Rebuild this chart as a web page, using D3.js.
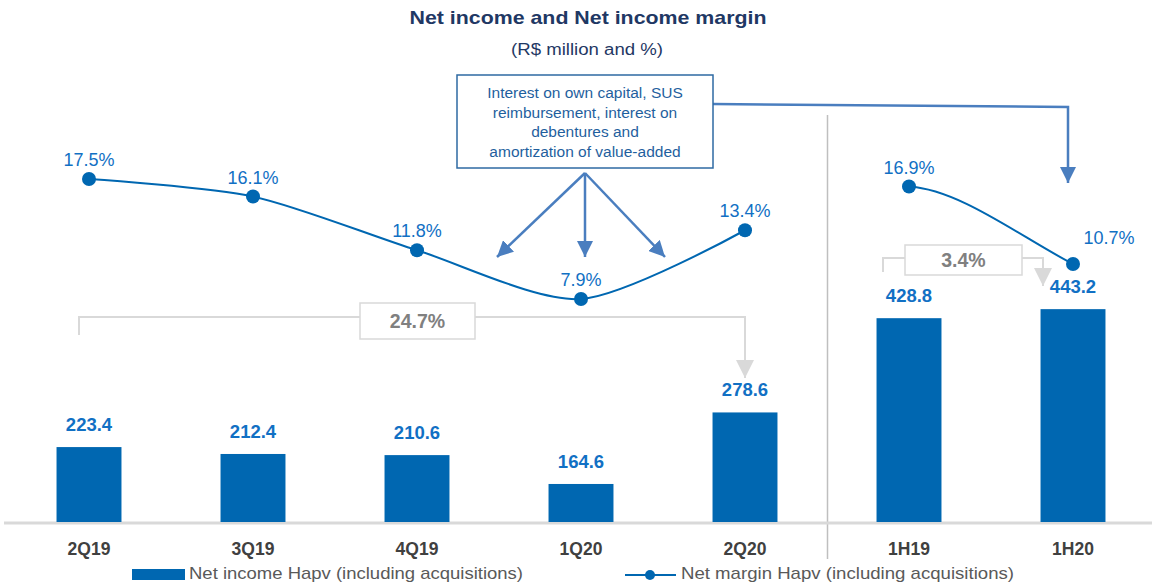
<!DOCTYPE html>
<html>
<head>
<meta charset="utf-8">
<script src="https://cdn.jsdelivr.net/npm/d3@7/dist/d3.min.js"></script>
<style>
  html, body { margin: 0; padding: 0; background: #fff; }
  svg { display: block; font-family: "Liberation Sans", Arial, sans-serif; }
</style>
</head>
<body>
<svg id="chart" width="1152" height="584"></svg>
<script>
// Periods, net income (R$ million) and net margin (%)
const categories = ["2Q19", "3Q19", "4Q19", "1Q20", "2Q20", "1H19", "1H20"];
const netIncome = [223.4, 212.4, 210.6, 164.6, 278.6, 428.8, 443.2];
const netMargin = [17.5, 16.1, 11.8, 7.9, 13.4, 16.9, 10.7];
const quarterGroup = ["2Q19", "3Q19", "4Q19", "1Q20", "2Q20"];
const halfGroup = ["1H19", "1H20"];
const growthLabels = ["24.7%", "3.4%"];
const noteLines = ["Interest on own capital, SUS", "reimbursement, interest on", "debentures and", "amortization of value-added"];
const legendLabels = ["Net income Hapv (including acquisitions)", "Net margin Hapv (including acquisitions)"];

const BLUE = "#0067b1";
const LABEL_BLUE = "#1170c4";
const ARROW = "#4a7ebf";
const GREY = "#d9d9d9";

const svg = d3.select("#chart");

const x = d3.scaleBand().domain(categories).range([7, 1155])
  .paddingInner(0.604).paddingOuter(0.302);
const cx = c => x(c) + x.bandwidth() / 2;
const yBar = d3.scaleLinear().domain([104, 700]).range([522, 148]);
const yLine = d3.scaleLinear().domain([0, 20]).range([397.75, 147.75]);

const rows = categories.map((c, i) => ({ c, v: netIncome[i], m: netMargin[i] }));

// Two-point smoothed segment: leaves flat, arrives steeply
function easeCurve(context) {
  let pts = [];
  return {
    lineStart() { pts = []; },
    lineEnd() {
      if (!pts.length) return;
      context.moveTo(pts[0][0], pts[0][1]);
      for (let i = 1; i < pts.length; i++) {
        const [x0, y0] = pts[i - 1], [x1, y1] = pts[i];
        const dx = x1 - x0, dy = y1 - y0;
        context.bezierCurveTo(x0 + dx * 0.31, y0 + dy * 0.04, x1 - dx * 0.32, y1 - dy * 0.35, x1, y1);
      }
    },
    areaStart() {}, areaEnd() {},
    point(px, py) { pts.push([px, py]); }
  };
}

// Arrow heads
const defs = svg.append("defs");
function marker(id, color, w, h) {
  defs.append("marker").attr("id", id)
    .attr("viewBox", "0 0 10 10").attr("refX", 10).attr("refY", 5)
    .attr("markerUnits", "userSpaceOnUse")
    .attr("markerWidth", w).attr("markerHeight", h)
    .attr("orient", "auto")
    .append("path").attr("d", "M0,0L10,5L0,10Z").attr("fill", color);
}
marker("headBlue", ARROW, 16, 16);
marker("headGrey", GREY, 18, 18);

// Title
svg.append("text").attr("x", 588).attr("y", 24).attr("text-anchor", "middle")
  .attr("font-size", 19).attr("font-weight", "bold").attr("fill", "#1f3864")
  .attr("textLength", 357).attr("lengthAdjust", "spacingAndGlyphs")
  .text("Net income and Net income margin");
svg.append("text").attr("x", 587).attr("y", 55).attr("text-anchor", "middle")
  .attr("font-size", 16).attr("fill", "#1f3864")
  .attr("textLength", 152).attr("lengthAdjust", "spacingAndGlyphs")
  .text("(R$ million and %)");

// Divider between quarters and halves
const divX = (cx("2Q20") + cx("1H19")) / 2 + 0.5;
svg.append("line").attr("x1", divX).attr("x2", divX).attr("y1", 115).attr("y2", 559)
  .attr("stroke", "#bfbfbf").attr("stroke-width", 1.5);

// Baseline
svg.append("line").attr("x1", 4).attr("x2", 1152).attr("y1", yBar(104) + 1).attr("y2", yBar(104) + 1)
  .attr("stroke", GREY).attr("stroke-width", 3);

// Bars
svg.append("g").selectAll("rect").data(rows).join("rect")
  .attr("x", d => x(d.c)).attr("width", x.bandwidth())
  .attr("y", d => yBar(d.v)).attr("height", d => yBar(104) - yBar(d.v))
  .attr("fill", BLUE);

svg.append("g").selectAll("text").data(rows).join("text")
  .attr("x", d => cx(d.c)).attr("y", d => yBar(d.v) - 16)
  .attr("text-anchor", "middle").attr("font-size", 18.5).attr("font-weight", "bold")
  .attr("fill", LABEL_BLUE).text(d => d.v.toFixed(1));

// Category labels
svg.append("g").selectAll("text").data(categories).join("text")
  .attr("x", d => cx(d)).attr("y", 555).attr("text-anchor", "middle")
  .attr("font-size", 17.5).attr("font-weight", "bold").attr("fill", "#404040")
  .text(d => d);

// Growth brackets
function bracket(x1, x2, yTop, yLeft, yTip, bx1, bx2, by1, by2, label, fs) {
  const g = svg.append("g");
  g.append("path")
    .attr("d", `M${x1},${yLeft}V${yTop}H${bx1}M${bx2},${yTop}H${x2}V${yTip}`)
    .attr("fill", "none").attr("stroke", GREY).attr("stroke-width", 2)
    .attr("marker-end", "url(#headGrey)");
  g.append("rect").attr("x", bx1).attr("y", by1).attr("width", bx2 - bx1).attr("height", by2 - by1)
    .attr("fill", "#fff").attr("stroke", GREY).attr("stroke-width", 1.5);
  g.append("text").attr("x", (bx1 + bx2) / 2).attr("y", (by1 + by2) / 2 + fs * 0.36)
    .attr("text-anchor", "middle").attr("font-size", fs).attr("font-weight", "bold")
    .attr("fill", "#808080").text(label);
}
bracket(cx("2Q19") - 10, cx("2Q20"), 317, 335, 378, 360, 475, 303, 339, growthLabels[0], 19.5);
bracket(cx("1H19") - 26, cx("1H20") - 30, 258, 272, 286, 905, 1022, 245, 275, growthLabels[1], 19.5);

// Margin lines
const lineGen = d3.line().x(d => cx(d.c)).y(d => yLine(d.m));
const qRows = rows.filter(d => quarterGroup.includes(d.c));
const hRows = rows.filter(d => halfGroup.includes(d.c));
svg.append("path").datum(qRows).attr("d", lineGen.curve(d3.curveCardinal.tension(0.2)))
  .attr("fill", "none").attr("stroke", BLUE).attr("stroke-width", 2);
svg.append("path").datum(hRows).attr("d", lineGen.curve(easeCurve))
  .attr("fill", "none").attr("stroke", BLUE).attr("stroke-width", 2);

svg.append("g").selectAll("circle").data(rows).join("circle")
  .attr("cx", d => cx(d.c)).attr("cy", d => yLine(d.m)).attr("r", 7)
  .attr("fill", BLUE);

svg.append("g").selectAll("text").data(rows).join("text")
  .attr("x", d => d.c === "1H20" ? cx(d.c) + 36 : cx(d.c))
  .attr("y", d => d.c === "1H20" ? yLine(d.m) - 20 : yLine(d.m) - 13)
  .attr("text-anchor", "middle").attr("font-size", 18).attr("fill", LABEL_BLUE)
  .text(d => d.m.toFixed(1) + "%");

// Note box with arrows
const note = svg.append("g");
const boxX1 = 457, boxX2 = 713, boxY1 = 75, boxY2 = 168;
const oX = cx("1Q20") + 4, oY = boxY2 + 5;
[[cx("1Q20") - 84, 257], [cx("1Q20") + 4, 257], [cx("1Q20") + 84, 257]].forEach(([tx, ty]) => {
  note.append("line").attr("x1", oX).attr("y1", oY).attr("x2", tx).attr("y2", ty)
    .attr("stroke", ARROW).attr("stroke-width", 2.5).attr("marker-end", "url(#headBlue)");
});
note.append("path")
  .attr("d", `M${boxX2},104L${cx("1H20") - 5},107V183`)
  .attr("fill", "none").attr("stroke", ARROW).attr("stroke-width", 2.5)
  .attr("marker-end", "url(#headBlue)");
note.append("rect").attr("x", boxX1).attr("y", boxY1).attr("width", boxX2 - boxX1).attr("height", boxY2 - boxY1)
  .attr("fill", "#fff").attr("stroke", "#2e6aa3").attr("stroke-width", 1.5);
note.append("g").selectAll("text").data(noteLines).join("text")
  .attr("x", (boxX1 + boxX2) / 2).attr("y", (d, i) => 98 + i * 19.5)
  .attr("text-anchor", "middle").attr("font-size", 15.5).attr("fill", "#1f5f9e")
  .text(d => d);

// Legend
const lg = svg.append("g");
lg.append("rect").attr("x", 132).attr("y", 569).attr("width", 53).attr("height", 11).attr("fill", BLUE);
lg.append("text").attr("x", 189).attr("y", 579).attr("font-size", 17)
  .attr("textLength", 334).attr("lengthAdjust", "spacingAndGlyphs")
  .attr("fill", "#595959").text(legendLabels[0]);
lg.append("line").attr("x1", 625).attr("x2", 676).attr("y1", 575).attr("y2", 575)
  .attr("stroke", BLUE).attr("stroke-width", 2);
lg.append("circle").attr("cx", 650).attr("cy", 575).attr("r", 5).attr("fill", BLUE);
lg.append("text").attr("x", 681).attr("y", 579).attr("font-size", 17)
  .attr("textLength", 333).attr("lengthAdjust", "spacingAndGlyphs")
  .attr("fill", "#595959").text(legendLabels[1]);
</script>
</body>
</html>
